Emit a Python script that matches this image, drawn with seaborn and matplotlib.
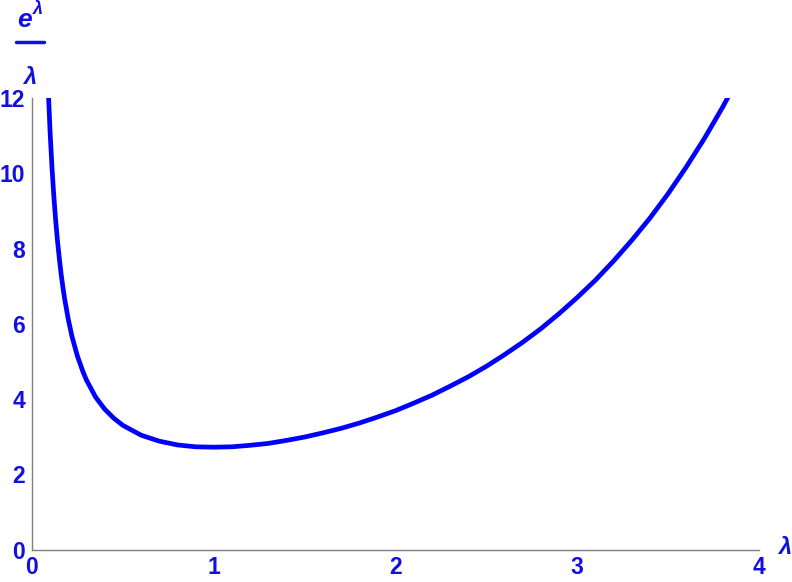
import matplotlib
matplotlib.use("Agg")
import matplotlib.pyplot as plt
import seaborn as sns
import pandas as pd
from matplotlib.ticker import MultipleLocator

# values (lambda, e^lambda / lambda)
lam = [0.09, 0.10, 0.11, 0.12, 0.13, 0.14, 0.15, 0.16, 0.17, 0.18, 0.20, 0.22,
       0.25, 0.28, 0.30, 0.35, 0.40, 0.45, 0.50, 0.60, 0.70, 0.80, 0.90, 1.00,
       1.10, 1.20, 1.30, 1.40, 1.50, 1.60, 1.70, 1.80, 1.90, 2.00, 2.10, 2.20,
       2.30, 2.40, 2.50, 2.60, 2.70, 2.80, 2.90, 3.00, 3.10, 3.20, 3.30, 3.40,
       3.50, 3.60, 3.70, 3.80, 3.85]
ratio = [12.16, 11.05, 10.15, 9.40, 8.76, 8.22, 7.75, 7.33, 6.97, 6.65, 6.11, 5.66,
         5.14, 4.73, 4.50, 4.05, 3.73, 3.49, 3.30, 3.04, 2.88, 2.78, 2.73, 2.72,
         2.73, 2.77, 2.82, 2.90, 2.99, 3.10, 3.22, 3.36, 3.52, 3.69, 3.89, 4.10,
         4.34, 4.59, 4.87, 5.18, 5.51, 5.87, 6.27, 6.70, 7.16, 7.67, 8.22, 8.81,
         9.46, 10.17, 10.93, 11.76, 12.21]
x_ticks = [0, 1, 2, 3, 4]
y_ticks = [0, 2, 4, 6, 8, 10, 12]

BLUE = "#0000ff"
LABEL_BLUE = "#1010e0"
GRAY = "#808080"

sns.set_style("white")
plt.rcParams['font.family'] = ['Liberation Sans', 'DejaVu Sans']

df = pd.DataFrame({"lam": lam, "ratio": ratio})

fig = plt.figure(figsize=(7.92, 5.82), dpi=100)
ax = fig.add_axes([0.0404, 0.0558, 0.918, 0.7758])

sns.lineplot(data=df, x="lam", y="ratio", color=BLUE, linewidth=3.4, ax=ax)

ax.set_xlim(0, 4)
ax.set_ylim(0, 12)
ax.set_xticks(x_ticks)
ax.set_yticks(y_ticks)
ax.xaxis.set_minor_locator(MultipleLocator(0.2))
ax.yaxis.set_minor_locator(MultipleLocator(0.5))
ax.set_xlabel("")
ax.set_ylabel("")

for side in ["top", "right"]:
    ax.spines[side].set_visible(False)
for side in ["left", "bottom"]:
    ax.spines[side].set_color(GRAY)
    ax.spines[side].set_linewidth(1.0)

ax.tick_params(which="major", direction="in", length=4, width=0.8, color=GRAY,
               labelsize=16.5, labelcolor=LABEL_BLUE, pad=5)
ax.tick_params(which="minor", direction="in", length=2.5, width=0.6, color=GRAY)
for lbl in ax.get_xticklabels() + ax.get_yticklabels():
    lbl.set_fontweight("bold")

# axis labels, Mathematica style
lab = dict(color=LABEL_BLUE, fontweight="bold", style="italic")
fig.text(785 / 792, 1 - 548 / 582, "λ", fontsize=17, ha="center", va="center", **lab)
fig.text(24 / 792, 1 - 20 / 582, "e", fontsize=19, ha="center", va="center", **lab)
fig.text(38 / 792, 1 - 10 / 582, "λ", fontsize=13, ha="center", va="center", **lab)
fig.add_artist(plt.Line2D([16 / 792, 44 / 792], [1 - 42 / 582, 1 - 42 / 582],
                          color=LABEL_BLUE, linewidth=2.5))
fig.text(30 / 792, 1 - 78 / 582, "λ", fontsize=17, ha="center", va="center", **lab)

fig.savefig("out.png", dpi=100)
